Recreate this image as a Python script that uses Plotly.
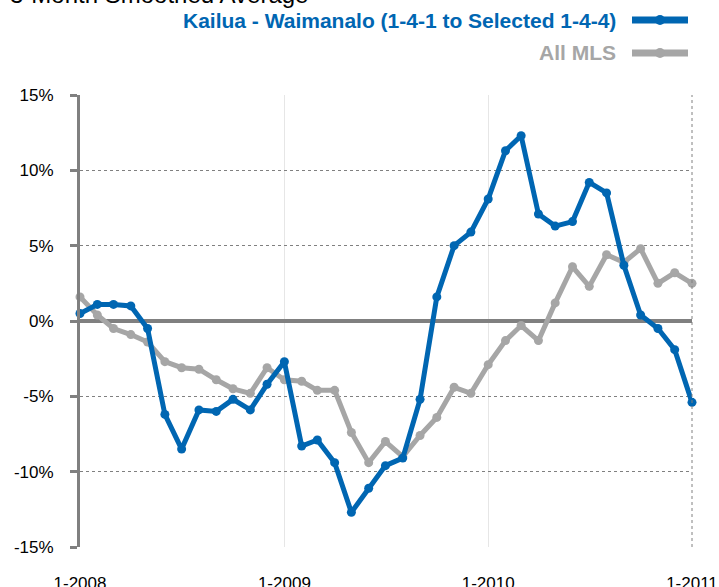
import pandas as pd
import plotly.graph_objects as go

# ---- data ----
months = pd.date_range("2008-01-01", "2011-01-01", freq="MS")
kailua = [0.5, 1.1, 1.1, 1.0, -0.5, -6.2, -8.5, -5.9, -6.0, -5.2, -5.9, -4.2,
          -2.7, -8.3, -7.9, -9.4, -12.7, -11.1, -9.6, -9.1, -5.2, 1.6, 5.0, 5.9,
          8.1, 11.3, 12.3, 7.1, 6.3, 6.6, 9.2, 8.5, 3.7, 0.4, -0.5, -1.9, -5.4]
all_mls = [1.6, 0.4, -0.5, -0.9, -1.4, -2.7, -3.1, -3.2, -3.9, -4.5, -4.8, -3.1,
           -3.9, -4.0, -4.6, -4.6, -7.4, -9.4, -8.0, -9.0, -7.6, -6.4, -4.4, -4.8,
           -2.9, -1.3, -0.3, -1.3, 1.2, 3.6, 2.3, 4.4, 3.9, 4.8, 2.5, 3.2, 2.5]
y_ticks = [-15, -10, -5, 0, 5, 10, 15]
y_ticktext = ["-15%", "-10%", "-5%", "0%", "5%", "10%", "15%"]
x_ticks = ["2008-01-01", "2009-01-01", "2010-01-01", "2011-01-01"]
x_ticktext = ["1-2008", "1-2009", "1-2010", "1-2011"]
name_kailua = "Kailua - Waimanalo (1-4-1 to Selected 1-4-4)"
name_mls = "All MLS"
title_text = "3-Month Smoothed Average"

BLUE = "#0066B2"
GRAY = "#A6A6A6"
AXIS = "#808080"
FONT = "Liberation Sans, Arial, sans-serif"

fig = go.Figure()
fig.add_trace(go.Scatter(x=months, y=all_mls, mode="lines+markers", name=name_mls,
                         line=dict(color=GRAY, width=5), marker=dict(color=GRAY, size=9),
                         cliponaxis=False, showlegend=False))
fig.add_trace(go.Scatter(x=months, y=kailua, mode="lines+markers", name=name_kailua,
                         line=dict(color=BLUE, width=5), marker=dict(color=BLUE, size=9),
                         cliponaxis=False, showlegend=False))

W, H = 719, 587
ml, mr, mt, mb = 80, 27, 95, 40
pw, ph = W - ml - mr, H - mt - mb

def px2x(px):
    return (px - ml) / pw

def px2y(py):
    return (H - mb - py) / ph

annotations = [
    dict(text=title_text, x=px2x(8), y=px2y(10), xref="paper", yref="paper",
         xanchor="left", yanchor="bottom", showarrow=False,
         font=dict(family=FONT, size=24, color="#000000")),
    dict(text="<b>%s</b>" % name_kailua, x=px2x(618), y=px2y(20), xref="paper", yref="paper",
         xanchor="right", yanchor="middle", showarrow=False,
         font=dict(family=FONT, size=21, color=BLUE)),
    dict(text="<b>%s</b>" % name_mls, x=px2x(618), y=px2y(53), xref="paper", yref="paper",
         xanchor="right", yanchor="middle", showarrow=False,
         font=dict(family=FONT, size=21, color=GRAY)),
]

shapes = [
    # right dotted border
    dict(type="line", xref="paper", yref="paper", x0=1, x1=1, y0=0, y1=1,
         line=dict(color=AXIS, width=1, dash="dot")),
]
for ypx, col in [(20, BLUE), (53, GRAY)]:
    shapes.append(dict(type="line", xref="paper", yref="paper",
                       x0=px2x(632), x1=px2x(688), y0=px2y(ypx), y1=px2y(ypx),
                       line=dict(color=col, width=7)))
    shapes.append(dict(type="circle", xref="paper", yref="paper",
                       xsizemode="pixel", ysizemode="pixel",
                       xanchor=px2x(660), yanchor=px2y(ypx),
                       x0=-5, x1=5, y0=-5, y1=5,
                       fillcolor=col, line=dict(color=col, width=0)))

fig.update_layout(
    template="none",
    width=W, height=H,
    margin=dict(l=ml, r=mr, t=mt, b=mb, pad=0, autoexpand=False),
    paper_bgcolor="white", plot_bgcolor="white",
    font=dict(family=FONT, size=17, color="#000000"),
    annotations=annotations,
    shapes=shapes,
    xaxis=dict(
        range=["2008-01-01", "2011-01-01"],
        tickvals=x_ticks, ticktext=x_ticktext,
        showgrid=True, gridcolor="#E6E6E6", gridwidth=1,
        showline=False, zeroline=False, ticks="",
        ticklabelstandoff=24, automargin=False,
        tickfont=dict(family=FONT, size=17, color="#000000"),
    ),
    yaxis=dict(
        range=[-15, 15],
        tickvals=y_ticks, ticktext=y_ticktext,
        showgrid=True, gridcolor=AXIS, gridwidth=1, griddash="dot",
        showline=True, linecolor=AXIS, linewidth=3,
        ticks="outside", ticklen=7, tickwidth=3, tickcolor=AXIS,
        zeroline=True, zerolinecolor=AXIS, zerolinewidth=4,
        ticklabelstandoff=13, automargin=False,
        tickfont=dict(family=FONT, size=17, color="#000000"),
    ),
)

fig.write_html("out.html",
               config={"displayModeBar": False},
               post_script="document.body.style.margin='0';document.body.style.overflow='hidden';")
